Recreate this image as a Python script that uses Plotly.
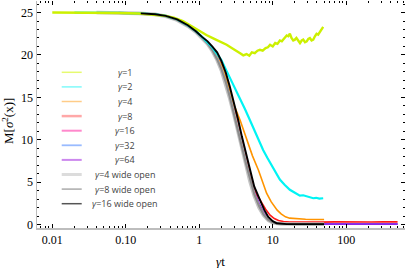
import plotly.graph_objects as go

# ---------------- data ----------------
t_g1 = [0.01, 0.02, 0.04, 0.08, 0.15, 0.25, 0.35, 0.45, 0.6, 0.8, 1.02, 1.25, 1.55, 1.9, 2.36, 2.8,
        3.23, 3.6, 3.97, 4.4, 4.8, 5.2, 5.7, 6.2, 6.7, 7.3, 8.0, 8.6, 9.2, 10.0, 10.8, 11.6, 12.5,
        13.3, 14.2, 15.5, 16.3, 17.1, 18.0, 19.0, 20.0, 21.0, 22.2, 23.5, 24.8, 26.0, 27.5, 29.0,
        30.5, 32.0, 33.8, 35.6, 37.5, 39.5, 41.5, 43.6, 46.0, 48.6]
v_g1 = [25.0, 25.0, 24.98, 24.95, 24.88, 24.75, 24.6, 24.4, 24.0, 23.35, 22.75, 22.35, 21.95, 21.6,
        21.2, 20.8, 20.4, 20.2, 19.95, 20.1, 19.9, 20.3, 20.2, 20.5, 20.6, 20.5, 20.8, 20.9, 21.2,
        21.0, 21.4, 21.3, 21.7, 21.6, 21.9, 22.3, 22.2, 22.5, 22.0, 21.7, 21.8, 22.0, 21.7, 21.4,
        21.7, 21.8, 21.5, 21.6, 21.9, 22.0, 21.7, 21.8, 22.2, 22.5, 22.4, 22.7, 22.9, 23.3]

t_g2 = [0.02, 0.04, 0.08, 0.15, 0.25, 0.35, 0.5, 0.7, 0.9, 1.1, 1.3, 1.5, 1.72, 2.0, 2.3, 2.8, 3.6,
        4.2, 4.9, 5.6, 6.4, 7.4, 8.4, 9.2, 10.5, 12.5, 14.5, 17.1, 19.5, 21.0, 23.4, 26.0, 28.9,
        32.0, 35.6, 39.0, 43.0, 48.6]
v_g2 = [25.0, 25.0, 24.97, 24.9, 24.78, 24.6, 24.2, 23.5, 22.8, 22.1, 21.5, 20.9, 20.2, 19.4, 18.3,
        16.8, 14.9, 13.6, 12.3, 11.1, 10.0, 8.8, 7.9, 7.3, 6.4, 5.3, 4.7, 4.1, 3.8, 3.6, 3.4, 3.45,
        3.3, 3.2, 3.1, 3.15, 3.05, 3.1]

t_g4 = [0.04, 0.08, 0.15, 0.25, 0.35, 0.5, 0.7, 0.9, 1.1, 1.3, 1.5, 1.75, 2.0, 2.3, 2.6, 3.0, 3.6,
        4.4, 5.3, 6.4, 7.3, 8.25, 9.5, 11.5, 13.0, 14.9, 17.0, 20.0, 23.0, 28.0, 35.0, 42.0, 50.0]
v_g4 = [25.0, 24.97, 24.9, 24.78, 24.6, 24.2, 23.5, 22.8, 22.1, 21.5, 20.8, 19.8, 18.8, 17.4, 15.9,
        14.0, 12.3, 10.0, 8.1, 6.4, 4.9, 3.7, 2.7, 1.7, 1.25, 0.9, 0.75, 0.68, 0.65, 0.62, 0.6, 0.6, 0.6]

t_g8 = [0.08, 0.12, 0.18, 0.25, 0.35, 0.5, 0.7, 0.9, 1.1, 1.3, 1.5, 1.75, 2.0, 2.3, 2.6, 3.0, 3.4,
        3.8, 4.3, 4.9, 5.5, 6.2, 7.0, 8.0, 9.2, 10.5, 12.0, 14.0, 17.0, 22.0, 30.0, 45.0, 70.0,
        100.0, 150.0, 220.0, 320.0, 500.0]
v_g8 = [24.97, 24.95, 24.9, 24.8, 24.6, 24.2, 23.5, 22.8, 22.1, 21.5, 20.8, 19.8, 18.7, 17.3, 15.8,
        13.8, 11.9, 10.1, 8.1, 6.0, 4.5, 3.4, 2.6, 1.8, 1.1, 0.7, 0.48, 0.36, 0.3, 0.28, 0.29, 0.28,
        0.31, 0.29, 0.32, 0.3, 0.33, 0.31]

t_g16 = [0.16, 0.25, 0.35, 0.5, 0.7, 0.9, 1.1, 1.3, 1.5, 1.75, 2.0, 2.3, 2.6, 3.0, 3.4, 3.8, 4.3,
         4.9, 5.6, 6.5, 7.5, 8.7, 10.0, 11.5, 13.0, 16.0, 20.0, 30.0, 50.0, 100.0, 200.0, 500.0]
v_g16 = [24.9, 24.8, 24.6, 24.2, 23.45, 22.75, 22.05, 21.4, 20.6, 19.6, 18.4, 16.9, 15.3, 13.2,
         11.3, 9.5, 7.6, 5.6, 3.8, 2.4, 1.35, 0.7, 0.35, 0.2, 0.12, 0.08, 0.07, 0.07, 0.07, 0.07,
         0.07, 0.07]

t_g32 = [0.32, 0.5, 0.7, 0.9, 1.1, 1.3, 1.5, 1.75, 2.0, 2.3, 2.6, 3.0, 3.4, 3.8, 4.3, 4.9, 5.6,
         6.5, 7.5, 8.7, 10.0, 11.5, 13.0, 16.0, 20.0, 30.0, 50.0, 100.0, 200.0, 500.0]
v_g32 = [24.65, 24.15, 23.4, 22.7, 22.0, 21.35, 20.55, 19.5, 18.3, 16.8, 15.2, 13.1, 11.2, 9.4, 7.5,
         5.5, 3.7, 2.3, 1.3, 0.65, 0.3, 0.14, 0.08, 0.06, 0.06, 0.06, 0.06, 0.06, 0.06, 0.06]

t_g64 = [0.64, 0.8, 1.0, 1.2, 1.4, 1.6, 1.8, 2.0, 2.3, 2.6, 3.0, 3.4, 3.8, 4.3, 4.9, 5.6, 6.5, 7.5,
         8.7, 10.0, 11.5, 13.0, 16.0, 20.0, 30.0, 50.0, 100.0, 200.0, 500.0]
v_g64 = [23.75, 23.1, 22.4, 21.8, 21.1, 20.5, 19.7, 18.8, 17.3, 15.7, 13.6, 11.6, 9.8, 7.9, 5.9,
         4.0, 2.5, 1.4, 0.7, 0.3, 0.12, 0.06, 0.04, 0.04, 0.04, 0.04, 0.04, 0.04, 0.04]

t_w4 = [0.04, 0.08, 0.15, 0.25, 0.35, 0.5, 0.7, 0.9, 1.1, 1.3, 1.5, 1.75, 2.0, 2.3, 2.6, 3.0, 3.4,
        3.8, 4.3, 4.9, 5.6, 6.5, 7.5, 8.7, 10.0, 11.5, 13.0, 16.0, 20.0, 30.0, 50.0]
v_w4 = [25.0, 24.97, 24.9, 24.78, 24.55, 24.1, 23.4, 22.7, 22.0, 21.3, 20.5, 19.4, 18.2, 16.6, 14.9,
        12.8, 10.8, 9.0, 7.1, 5.1, 3.4, 2.0, 1.1, 0.5, 0.22, 0.1, 0.07, 0.06, 0.05, 0.05, 0.05]

t_w8 = [0.08, 0.15, 0.25, 0.35, 0.5, 0.7, 0.9, 1.1, 1.3, 1.5, 1.75, 2.0, 2.3, 2.6, 3.0, 3.4, 3.8,
        4.3, 4.9, 5.6, 6.5, 7.5, 8.7, 10.0, 11.5, 13.0, 16.0, 20.0, 30.0, 50.0]
v_w8 = [24.96, 24.9, 24.78, 24.58, 24.15, 23.45, 22.75, 22.05, 21.35, 20.6, 19.5, 18.35, 16.8, 15.1,
        13.0, 11.0, 9.2, 7.3, 5.3, 3.6, 2.2, 1.2, 0.55, 0.25, 0.12, 0.08, 0.06, 0.05, 0.05, 0.05]

t_w16 = [0.16, 0.25, 0.35, 0.5, 0.7, 0.9, 1.1, 1.3, 1.5, 1.75, 2.0, 2.3, 2.6, 3.0, 3.4, 3.8, 4.3,
         4.9, 5.6, 6.7, 7.7, 8.7, 10.0, 11.3, 13.0, 15.5, 20.0, 30.0, 50.0]
v_w16 = [24.9, 24.8, 24.6, 24.2, 23.5, 22.8, 22.1, 21.6, 21.0, 20.3, 19.3, 17.9, 16.3, 14.3, 12.3,
         10.4, 8.5, 6.4, 4.5, 2.9, 1.7, 0.9, 0.4, 0.15, 0.08, 0.05, 0.05, 0.05, 0.05]

series_names = ["γ=1", "γ=2", "γ=4", "γ=8", "γ=16", "γ=32", "γ=64",
                "γ=4 wide open", "γ=8 wide open", "γ=16 wide open"]

x_tick_vals = [0.01, 0.1, 1, 10, 100]
x_tick_text = ["0.01", "0.10", "1", "10", "100"]
y_tick_vals = [0, 5, 10, 15, 20, 25]

# ---------------- styles ----------------
series = [
    # (t, v, color, width, legend color, legend width)
    (t_g1, v_g1, "#ccf000", 2.4, "#e6fa70", 1.5),
    (t_g2, v_g2, "#00f4f4", 2.2, "#80fafa", 1.5),
    (t_g4, v_g4, "#ff9400", 1.6, "#ffcc88", 1.5),
    (t_g8, v_g8, "#ff1a1a", 1.6, "#ffa8a8", 2.5),
    (t_g16, v_g16, "#ff2a9a", 1.5, "#ff88cc", 2.0),
    (t_g32, v_g32, "#3377ff", 1.5, "#99bbff", 1.8),
    (t_g64, v_g64, "#8f22e6", 1.8, "#cc88ee", 2.0),
    (t_w4, v_w4, "#c4c4c4", 3.6, "#dcdcdc", 3.0),
    (t_w8, v_w8, "#8c8c8c", 2.2, "#aaaaaa", 1.5),
    (t_w16, v_w16, "#000000", 1.9, "#555555", 1.5),
]

draw_order = [4, 5, 6, 3, 2, 7, 8, 1, 0, 9]

W, H = 407, 268
L, R, T, B = 37, 2, 1, 40
PW, PH = W - L - R, H - T - B


def paper(xp, yp):
    return (xp - L) / PW, (T + PH - yp) / PH


fig = go.Figure()
for i in draw_order:
    t, v, c, w, _, _ = series[i]
    fig.add_trace(go.Scatter(x=t, y=v, mode="lines", name=series_names[i],
                             line=dict(color=c, width=w), showlegend=False,
                             hoverinfo="skip"))

minor_x = [m * 10 ** e for e in range(-3, 3) for m in range(2, 10)]
minor_y = [k for k in range(0, 27) if k % 5 != 0]

serif = "Liberation Serif, Times New Roman, serif"
axis_common = dict(showgrid=False, zeroline=False, ticks="inside", tickcolor="black",
                   tickwidth=1, automargin=False,
                   tickfont=dict(family=serif, size=12, color="black"))
minor_x_d = dict(tickmode="array", tickvals=minor_x, ticks="inside",
                 ticklen=2, tickcolor="black", tickwidth=1, showgrid=False)
minor_y_d = dict(tickmode="array", tickvals=minor_y, ticks="inside",
                 ticklen=2, tickcolor="black", tickwidth=1, showgrid=False)

fig.update_layout(
    template="none",
    width=W, height=H,
    margin=dict(l=L, r=R, t=T, b=B, autoexpand=False),
    paper_bgcolor="white", plot_bgcolor="white",
    xaxis=dict(type="log", range=[-2.208, 2.80], tickmode="array",
               tickvals=x_tick_vals, ticktext=x_tick_text, ticklen=4,
               showline=True, linecolor="#bdbdbd", linewidth=1.5,
               minor=minor_x_d, **axis_common),
    yaxis=dict(range=[-0.41, 26.36], tickmode="array", tickvals=y_tick_vals, ticklen=4,
               showline=True, linecolor="#bdbdbd", linewidth=1.5,
               minor=minor_y_d, **axis_common),
    xaxis2=dict(type="log", range=[-2.208, 2.80], overlaying="x", side="top",
                tickmode="array", tickvals=x_tick_vals, showticklabels=False, ticklen=4,
                showline=False, anchor="y", minor=minor_x_d, **axis_common),
    yaxis2=dict(range=[-0.41, 26.36], overlaying="y", side="right",
                tickmode="array", tickvals=y_tick_vals, showticklabels=False, ticklen=4,
                showline=False, anchor="x", minor=minor_y_d, **axis_common),
    showlegend=False,
    hovermode=False,
)

# invisible helper so the mirrored tick axes are drawn
fig.add_trace(go.Scatter(x=[t_g1[0]], y=[v_g1[0]], xaxis="x2", yaxis="y2", mode="markers",
                         marker=dict(opacity=0), showlegend=False, hoverinfo="skip"))

# ---------------- hand-drawn legend ----------------
annotations = []
shapes = []
for k, name in enumerate(series_names):
    yp = 72.3 + 14.6 * k
    x0, yy = paper(61.7, yp)
    x1, _ = paper(81.7, yp)
    shapes.append(dict(type="line", xref="paper", yref="paper", x0=x0, x1=x1, y0=yy, y1=yy,
                       line=dict(color=series[k][4], width=series[k][5])))
    xc, _ = paper(124.5, yp)
    label = "<i>γ</i>" + name[1:]
    annotations.append(dict(text=label, xref="paper", yref="paper", x=xc, y=yy,
                            xanchor="center", yanchor="middle", showarrow=False,
                            font=dict(family="Open Sans, DejaVu Sans, sans-serif", size=9,
                                      color="#444444")))

ax, ay = paper(220, 261)
annotations.append(dict(text="<i>γ</i>t", xref="paper", yref="paper", x=ax, y=ay,
                        xanchor="center", yanchor="middle", showarrow=False,
                        font=dict(family=serif, size=13, color="black")))
bx, by = paper(8, 121)
annotations.append(dict(text="M[<i>σ</i><sup>2</sup>(x)]", xref="paper", yref="paper",
                        x=bx, y=by, xanchor="center", yanchor="middle", textangle=-90,
                        showarrow=False, font=dict(family=serif, size=13, color="black")))

fig.update_layout(annotations=annotations, shapes=shapes)

fig.write_html("out.html", config={"displayModeBar": False, "staticPlot": True},
               post_script="document.body.style.margin='0';document.body.style.overflow='hidden';")
